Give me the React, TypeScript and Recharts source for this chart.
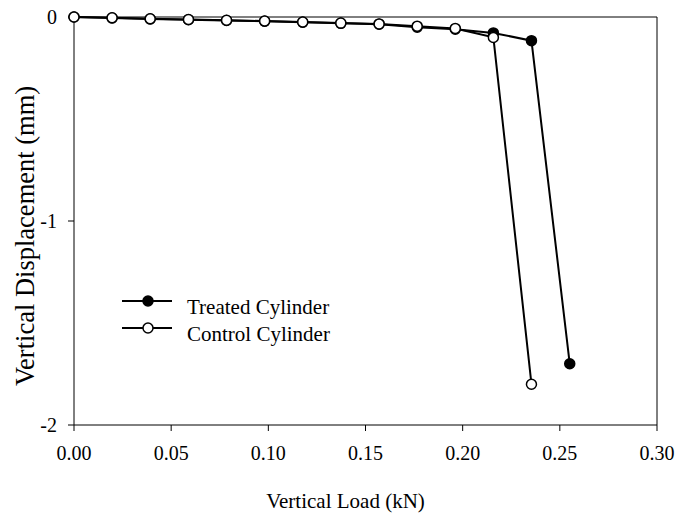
import { Line, LineChart, ReferenceLine, XAxis, YAxis } from "recharts";

// Vertical load (kN) vs vertical displacement (mm) for the two cylinders.
const treatedLoad = [
  0, 0.0196, 0.0392, 0.0589, 0.0785, 0.0981, 0.1177, 0.1373, 0.157, 0.1766,
  0.1962, 0.2158, 0.2354, 0.2551,
];
const treatedDisp = [
  0, -0.005, -0.01, -0.013, -0.017, -0.021, -0.026, -0.031, -0.035, -0.05,
  -0.06, -0.078, -0.116, -1.7,
];
const controlLoad = [
  0, 0.0196, 0.0392, 0.0589, 0.0785, 0.0981, 0.1177, 0.1373, 0.157, 0.1766,
  0.1962, 0.2158, 0.2354,
];
const controlDisp = [
  0, -0.004, -0.009, -0.012, -0.016, -0.02, -0.025, -0.03, -0.034, -0.045,
  -0.056, -0.1, -1.8,
];
const xTicks = [0, 0.05, 0.1, 0.15, 0.2, 0.25, 0.3];
const yTicks = [-2, -1, 0];

const FONT = "'Liberation Serif', 'Times New Roman', serif";

const treated = treatedLoad.map((load, i) => ({ load, disp: treatedDisp[i] }));
const control = controlLoad.map((load, i) => ({ load, disp: controlDisp[i] }));

const legendRows = [
  { name: "Treated Cylinder", fill: "#000" },
  { name: "Control Cylinder", fill: "#fff" },
];

// Legend overlay, drawn inside the plot at the lower left like the original.
function LegendBox() {
  return (
    <svg
      width={240}
      height={60}
      style={{ position: "absolute", left: 120, top: 290 }}
    >
      {legendRows.map((row, i) => {
        const y = 11 + i * 27;
        return (
          <g key={row.name}>
            <line x1={2} x2={52} y1={y} y2={y} stroke="#000" strokeWidth={2} />
            <circle cx={28} cy={y} r={5} fill={row.fill} stroke="#000" strokeWidth={1.5} />
            <text x={67} y={y + 13} fontFamily={FONT} fontSize={21} fill="#000">
              {row.name}
            </text>
          </g>
        );
      })}
    </svg>
  );
}

export default function App() {
  return (
    <div
      style={{
        position: "absolute",
        left: 0,
        top: 0,
        width: 690,
        height: 514,
        background: "#fff",
        overflow: "hidden",
      }}
    >
      <LineChart
        width={690}
        height={514}
        margin={{ top: 17, right: 33, left: 0, bottom: 0 }}
        style={{ overflow: "visible" }}
      >
        <XAxis
          type="number"
          dataKey="load"
          domain={[0, 0.3]}
          ticks={xTicks}
          tickFormatter={(v: number) => v.toFixed(2)}
          height={89}
          tickSize={6}
          tickMargin={15}
          stroke="#000"
          tick={{ fill: "#000", fontFamily: FONT, fontSize: 20 }}
          label={{
            content: ({ viewBox }: any) => (
              <text
                x={viewBox.x + viewBox.width / 2 - 20}
                y={viewBox.y + 83}
                textAnchor="middle"
                fontFamily={FONT}
                fontSize={21}
                fill="#000"
              >
                Vertical Load (kN)
              </text>
            ),
          }}
        />
        <YAxis
          type="number"
          dataKey="disp"
          domain={[-2, 0]}
          ticks={yTicks}
          width={74}
          tickSize={6}
          tickMargin={11}
          stroke="#000"
          tick={{ fill: "#000", fontFamily: FONT, fontSize: 20 }}
          label={{
            content: ({ viewBox }: any) => {
              const cx = 34;
              const cy = viewBox.y + viewBox.height / 2 + 15;
              return (
                <text
                  x={cx}
                  y={cy}
                  transform={`rotate(-90, ${cx}, ${cy})`}
                  textAnchor="middle"
                  fontFamily={FONT}
                  fontSize={26.5}
                  fill="#000"
                >
                  Vertical Displacement (mm)
                </text>
              );
            },
          }}
        />
        <ReferenceLine y={0} stroke="#000" strokeWidth={1} />
        <ReferenceLine x={0.3} stroke="#000" strokeWidth={1} />
        <Line
          data={treated}
          dataKey="disp"
          name="Treated Cylinder"
          stroke="#000"
          strokeWidth={2}
          dot={{ r: 5, fill: "#000", stroke: "#000", strokeWidth: 1.5 }}
          isAnimationActive={false}
        />
        <Line
          data={control}
          dataKey="disp"
          name="Control Cylinder"
          stroke="#000"
          strokeWidth={2}
          dot={{ r: 5, fill: "#fff", stroke: "#000", strokeWidth: 1.5 }}
          isAnimationActive={false}
        />
      </LineChart>
      <LegendBox />
    </div>
  );
}
